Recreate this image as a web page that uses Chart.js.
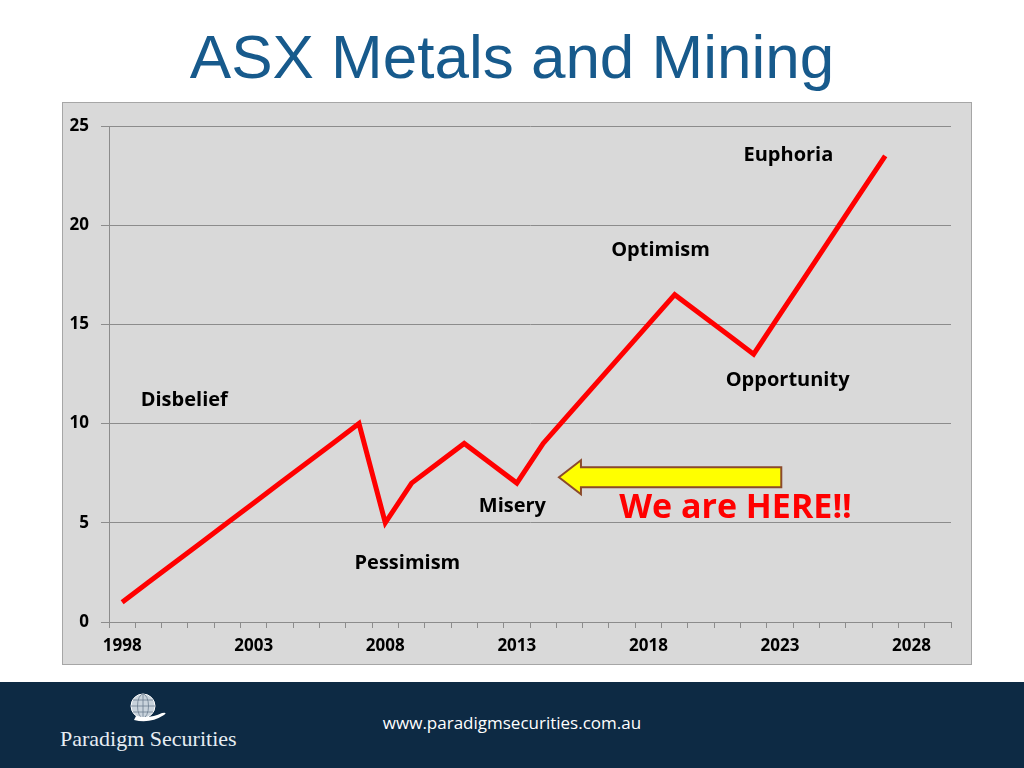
<!DOCTYPE html>
<html>
<head>
<meta charset="utf-8">
<script src="https://cdn.jsdelivr.net/npm/chart.js@4"></script>
<style>
  body { margin: 0; width: 1024px; height: 768px; background: #fff; position: relative; overflow: hidden; font-family: "Liberation Sans", Arial, sans-serif; }
  #title { position: absolute; left: 0; top: 20px; width: 1024px; text-align: center; font-size: 62px; color: #175a8c; line-height: 74px; }
  #box { position: absolute; left: 62px; top: 102px; width: 908px; height: 561px; background: #d9d9d9; border: 1px solid #a6a6a6; }
  #footer { position: absolute; left: 0; top: 682px; width: 1024px; height: 86px; background: #0d2a44; }
  #url { position: absolute; left: 0; top: 29px; width: 1024px; text-align: center; color: #fff; font-family: "Open Sans", sans-serif; font-size: 17px; }
  #brand { position: absolute; left: 60px; top: 44px; color: #e6edf3; font-family: "Liberation Serif", "DejaVu Serif", serif; font-size: 22px; }
  #globe { position: absolute; left: 128px; top: 10px; }
</style>
</head>
<body>
<div id="title">ASX Metals and Mining</div>
<div id="box"><canvas id="myChart" width="908" height="561"></canvas></div>
<div id="footer">
  <svg id="globe" width="44" height="34" viewBox="0 0 44 34">
    <circle cx="15" cy="14" r="12" fill="#c9d3dc" stroke="#fff" stroke-width="1"/>
    <ellipse cx="15" cy="14" rx="5.5" ry="12" fill="none" stroke="#6d7f90" stroke-width="0.8"/>
    <line x1="3" y1="14" x2="27" y2="14" stroke="#6d7f90" stroke-width="0.8"/>
    <line x1="5" y1="8" x2="25" y2="8" stroke="#6d7f90" stroke-width="0.8"/>
    <line x1="5" y1="20" x2="25" y2="20" stroke="#6d7f90" stroke-width="0.8"/>
    <line x1="15" y1="2" x2="15" y2="26" stroke="#6d7f90" stroke-width="0.8"/>
    <path d="M6 28 Q22 32 36 23 Q40 20 34 21 Q22 27 8 24 Z" fill="#fff"/>
  </svg>
  <div id="brand">Paradigm Securities</div>
  <div id="url">www.paradigmsecurities.com.au</div>
</div>
<script>
const years = [];
for (let y = 1998; y <= 2029; y++) years.push(String(y));

const index = [1, 2, 3, 4, 5, 6, 7, 8, 9, 10,
               5, 7, 8, 9, 8, 7, 9,
               10.5, 12, 13.5, 15, 16.5,
               15.5, 14.5, 13.5,
               15.5, 17.5, 19.5, 21.5, 23.5,
               null, null];

const yTicks = [0, 5, 10, 15, 20, 25];

const phases = ['Disbelief', 'Pessimism', 'Misery', 'Optimism', 'Opportunity', 'Euphoria'];
const phaseAt = [[2.36, 11.15], [10.84, 2.95], [14.83, 5.85], [20.46, 18.75], [25.29, 12.2], [25.32, 23.5]];
const hereText = 'We are HERE!!';

const labelFont = 'bold 20px "Open Sans", sans-serif';

const notes = {
  id: 'notes',
  afterDatasetsDraw(chart) {
    const ctx = chart.ctx, x = chart.scales.x, y = chart.scales.y;
    ctx.save();
    ctx.textAlign = 'center';
    ctx.textBaseline = 'middle';
    ctx.fillStyle = '#000';
    ctx.font = labelFont;
    phases.forEach((p, i) => {
      ctx.fillText(p, x.getPixelForValue(phaseAt[i][0]), y.getPixelForValue(phaseAt[i][1]));
    });
    ctx.fillStyle = '#ff0000';
    ctx.font = 'bold 34px "Open Sans", sans-serif';
    ctx.fillText(hereText, x.getPixelForValue(23.31), y.getPixelForValue(5.75));

    // arrow
    const tip = x.getPixelForValue(16.6), tail = x.getPixelForValue(25.05), cy = y.getPixelForValue(7.3);
    const hl = 22, hh = 17, sh = 10;
    ctx.beginPath();
    ctx.moveTo(tip, cy);
    ctx.lineTo(tip + hl, cy - hh);
    ctx.lineTo(tip + hl, cy - sh);
    ctx.lineTo(tail, cy - sh);
    ctx.lineTo(tail, cy + sh);
    ctx.lineTo(tip + hl, cy + sh);
    ctx.lineTo(tip + hl, cy + hh);
    ctx.closePath();
    ctx.fillStyle = '#ffff00';
    ctx.fill();
    ctx.lineWidth = 2;
    ctx.strokeStyle = '#8b4a2b';
    ctx.stroke();
    ctx.restore();
  }
};

new Chart('myChart', {
  type: 'line',
  data: {
    labels: years,
    datasets: [{
      data: index,
      borderColor: '#ff0000',
      borderWidth: 5,
      pointRadius: 0,
      tension: 0,
      borderJoinStyle: 'miter'
    }]
  },
  options: {
    responsive: false,
    animation: false,
    layout: { padding: { top: 23, right: 20, left: 0, bottom: 0 } },
    plugins: { legend: { display: false }, tooltip: { enabled: false } },
    scales: {
      x: {
        offset: true,
        grid: { offset: true, drawOnChartArea: false, drawTicks: true, tickLength: 6, color: '#8c8c8c' },
        border: { color: '#8c8c8c' },
        ticks: {
          autoSkip: false, maxRotation: 0, color: '#000', padding: 8,
          font: { family: 'Open Sans', weight: 'bold', size: 17 },
          callback: (v, i) => (i % 5 === 0 ? years[i] : '')
        },
        afterFit: s => { s.height = 42; }
      },
      y: {
        min: 0, max: 25,
        afterBuildTicks: s => { s.ticks = yTicks.map(v => ({ value: v })); },
        grid: { color: '#8c8c8c', tickLength: 8 },
        border: { color: '#8c8c8c' },
        ticks: { color: '#000', padding: 12, font: { family: 'Open Sans', weight: 'bold', size: 17 } },
        afterFit: s => { s.width = 46; }
      }
    }
  },
  plugins: [notes]
});
</script>
</body>
</html>
